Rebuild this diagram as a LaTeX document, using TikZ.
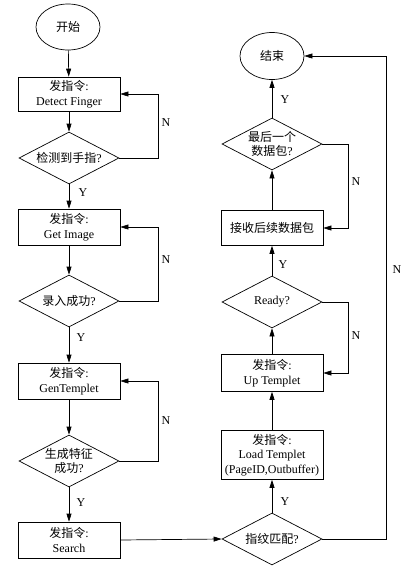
\documentclass[tikz,border=0pt]{standalone}
\usepackage{fontspec}
\setmainfont{Liberation Serif}
\newfontfamily\cjk{Noto Sans CJK SC}
\usetikzlibrary{shapes.geometric,arrows.meta}
\begin{document}
\begin{tikzpicture}[x=1pt,y=-1pt,
  font=\fontsize{12}{14.5}\selectfont,
  line width=0.7pt,
  box/.style={draw, rectangle, minimum width=102pt, minimum height=36pt, inner sep=1pt, align=center},
  dia/.style={draw, diamond, aspect=2, minimum width=100pt, minimum height=52pt, inner sep=0pt, align=center},
  term/.style={draw, ellipse, minimum width=64pt, minimum height=46pt, inner sep=0pt},
  arr/.style={-{Triangle[length=8pt,width=5pt]}},
  lbl/.style={inner sep=0pt}]
\useasboundingbox (0,0) rectangle (403,568);
% left column
\node[term] (start) at (68,27) {\cjk 开始};
\node[box, minimum height=34pt] (b1) at (69,94) {{\cjk 发指令}:\\Detect Finger};
\node[dia] (d1) at (69,158) {{\cjk 检测到手指}?};
\node[box] (b2) at (69,227) {{\cjk 发指令}:\\Get Image};
\node[dia] (d2) at (69,301) {{\cjk 录入成功}?};
\node[box] (b3) at (69,381) {{\cjk 发指令}:\\GenTemplet};
\node[dia] (d3) at (69,461) {{\cjk 生成特征}\\{\cjk 成功}?};
\node[box] (b4) at (69,540) {{\cjk 发指令}:\\Search};
% right column
\node[term, minimum height=47pt] (end) at (272,56) {\cjk 结束};
\node[dia] (d6) at (272,144) {{\cjk 最后一个}\\{\cjk 数据包}?};
\node[box, minimum height=35pt] (b7) at (272,228) {\cjk 接收后续数据包};
\node[dia] (d5) at (272,302) {Ready?};
\node[box, minimum height=37pt] (b6) at (272,373) {{\cjk 发指令}:\\Up Templet};
\node[box, minimum height=49pt] (b5) at (272,455) {{\cjk 发指令}:\\Load Templet\\(PageID,Outbuffer)};
\node[dia] (d4) at (272,539) {{\cjk 指纹匹配}?};
% main flow
\draw[arr] (start) -- (b1);
\draw[arr] (b1) -- (d1);
\draw[arr] (d1) -- (b2);
\draw[arr] (b2) -- (d2);
\draw[arr] (d2) -- (b3);
\draw[arr] (b3) -- (d3);
\draw[arr] (d3) -- (b4);
\draw[arr] (b4.east) -- (d4.west);
\draw[arr] (d4) -- (b5);
\draw[arr] (b5) -- (b6);
\draw[arr] (b6) -- (d5);
\draw[arr] (d5) -- (b7);
\draw[arr] (b7) -- (d6);
\draw[arr] (d6) -- (end);
% loops
\draw[arr] (d1.east) -- (158,158) |- (b1.east);
\draw[arr] (d2.east) -- (158,301) |- (b2.east);
\draw[arr] (d3.east) -- (158,461) |- (b3.east);
\draw[arr] (d4.east) -- (386,539) |- (end.east);
\draw[arr] (d5.east) -- (348,302) |- (b6.east);
\draw[arr] (d6.east) -- (348,144) |- (b7.east);
% labels
\node[lbl] (n1) at (166,123) {N};
\node[lbl] (n2) at (166,260) {N};
\node[lbl] (n3) at (166,421) {N};
\node[lbl] (n4) at (397,270) {N};
\node[lbl] (n5) at (356,336) {N};
\node[lbl] (n6) at (356,182) {N};
\node[lbl] (y1) at (83,193) {Y};
\node[lbl] (y2) at (81,338) {Y};
\node[lbl] (y3) at (81,503) {Y};
\node[lbl] (y4) at (285,502) {Y};
\node[lbl] (y5) at (283,265) {Y};
\node[lbl] (y6) at (285,100) {Y};
\end{tikzpicture}
\end{document}
